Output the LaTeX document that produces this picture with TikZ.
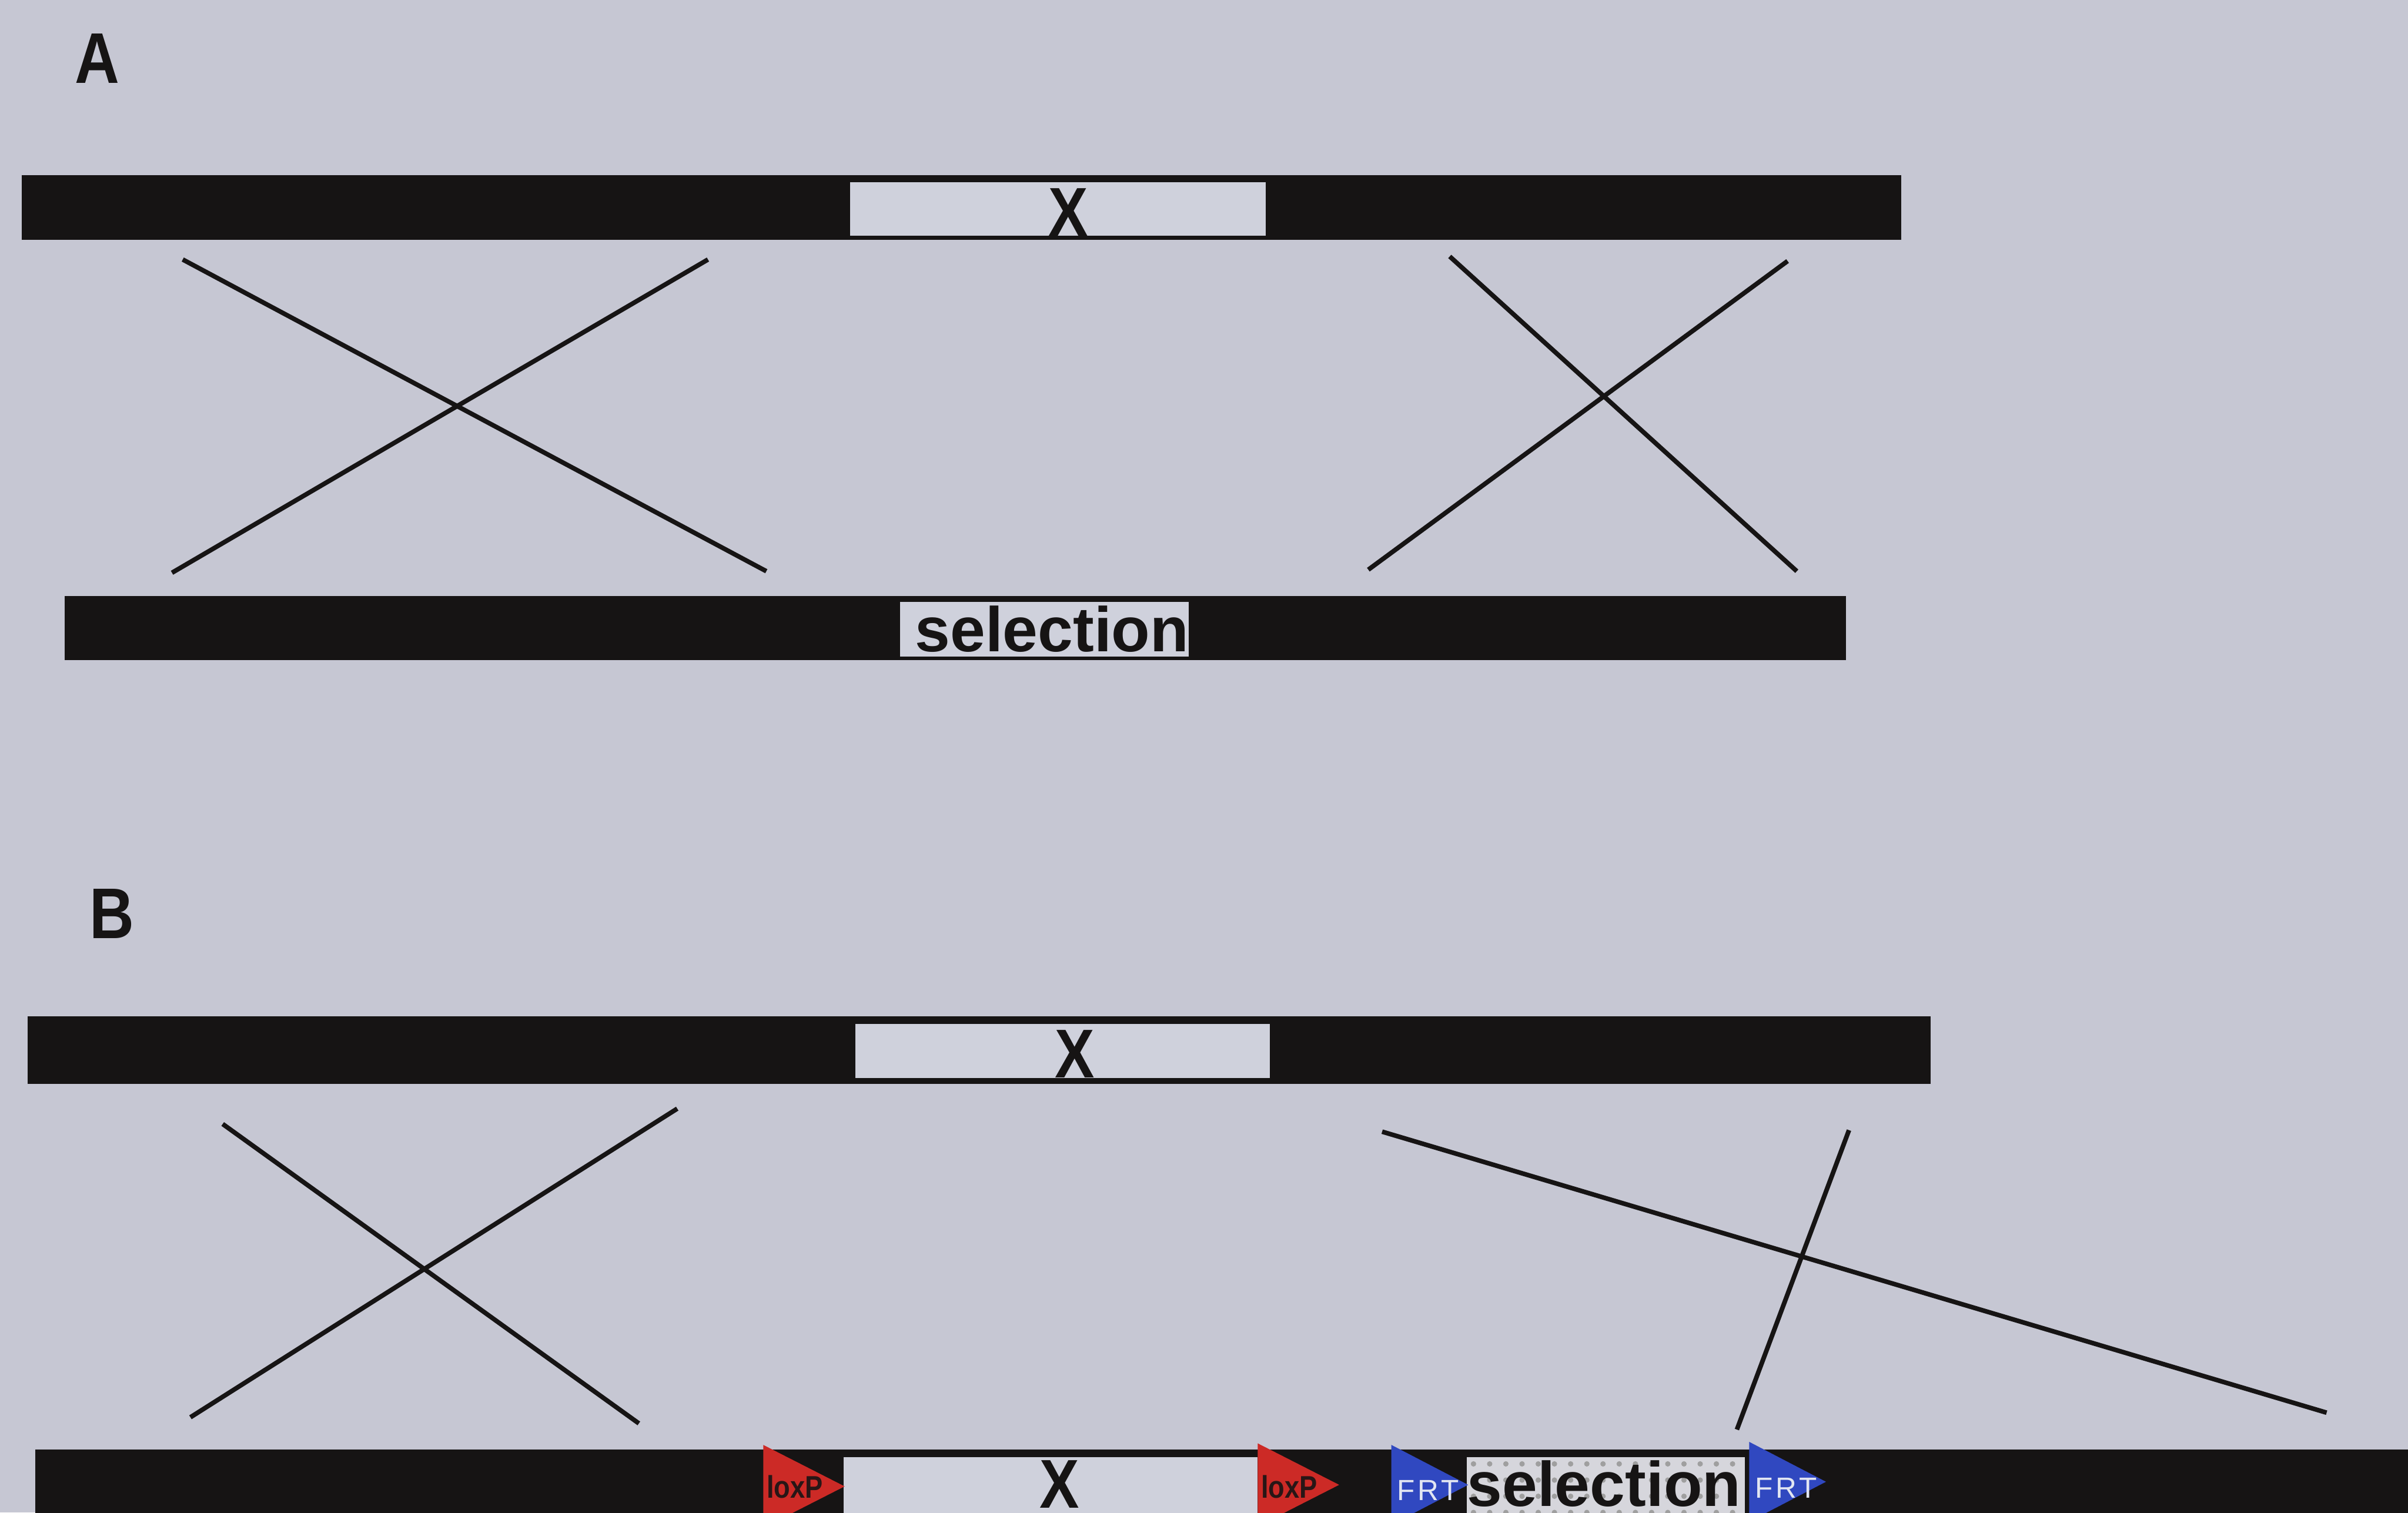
\documentclass[tikz,border=0pt]{standalone}
\usepackage{fontspec}
\setmainfont{Liberation Sans}
\newfontfamily\narrowsans[FakeStretch=0.86]{Liberation Sans}
\newfontfamily\tagsans[FakeStretch=0.85]{Liberation Sans}
\newfontfamily\frtsans[LetterSpace=10]{Liberation Sans}
\usetikzlibrary{patterns}

\definecolor{bg}{RGB}{198,199,211}
\definecolor{barc}{RGB}{22,20,20}
\definecolor{boxc}{RGB}{207,209,220}
\definecolor{selc}{RGB}{214,214,220}
\definecolor{loxred}{RGB}{204,42,38}
\definecolor{frtblue}{RGB}{48,72,192}
\definecolor{frttext}{RGB}{226,230,242}
\definecolor{loxtext}{RGB}{40,22,22}

\begin{document}
\begin{tikzpicture}[x=0.1mm,y=-0.1mm,
  bar/.style={fill=barc},
  slot/.style={fill=boxc},
  xover/.style={draw=barc,line width=0.85pt},
  panel/.style={font=\narrowsans\bfseries\fontsize{13.3}{14}\selectfont,text=barc,inner sep=0,anchor=base west},
  gene/.style={font=\narrowsans\bfseries\fontsize{12.8}{14}\selectfont,text=barc,inner sep=0,anchor=base},
  marker/.style={font=\bfseries\fontsize{11.7}{13}\selectfont,text=barc,inner sep=0,anchor=base},
  lox/.style={fill=loxred},
  frt/.style={fill=frtblue},
  loxlabel/.style={font=\tagsans\bfseries\fontsize{5.8}{6}\selectfont,text=loxtext,inner sep=0,anchor=base west},
  frtlabel/.style={font=\frtsans\fontsize{5.4}{6}\selectfont,text=frttext,inner sep=0,anchor=base west}]

% canvas
\useasboundingbox (0,0) rectangle (1568,985);
\fill[bg] (0,0) rectangle (1568,985);
\clip (0,0) rectangle (1568,985);

% ---------------- panel A ----------------
\node[panel] (labA) at (48,54) {A};

% chromosomal locus with gene X
\fill[bar] (14,114) rectangle (1238,156);
\fill[slot] (553.5,118.5) rectangle (824,153.5);
\node[gene] (xA) at (695.5,153.5) {X};

% targeting construct with selection cassette
\fill[bar] (42,388) rectangle (1202,430);
\fill[slot] (586,392) rectangle (774,427.5);
\node[marker] (selA) at (685,424.5) {selection};

% crossover arms
\coordinate (a1) at (119,169);  \coordinate (a2) at (499,372);
\coordinate (a3) at (461,169);  \coordinate (a4) at (112,373);
\coordinate (a5) at (944,167);  \coordinate (a6) at (1170,372);
\coordinate (a7) at (1164,170); \coordinate (a8) at (891,371);
\draw[xover] (a1) -- (a2);
\draw[xover] (a3) -- (a4);
\draw[xover] (a5) -- (a6);
\draw[xover] (a7) -- (a8);

% ---------------- panel B ----------------
\node[panel] (labB) at (57.5,611) {B};

% chromosomal locus with gene X
\fill[bar] (18,662) rectangle (1257,706);
\fill[slot] (557,667) rectangle (827,702);
\node[gene] (xB) at (700,702) {X};

% crossover arms
\coordinate (b1) at (145,732);  \coordinate (b2) at (416,927);
\coordinate (b3) at (441,722);  \coordinate (b4) at (124,923);
\coordinate (b5) at (900,737);  \coordinate (b6) at (1515,920);
\coordinate (b7) at (1204,736); \coordinate (b8) at (1131,931);
\draw[xover] (b1) -- (b2);
\draw[xover] (b3) -- (b4);
\draw[xover] (b5) -- (b6);
\draw[xover] (b7) -- (b8);

% targeting construct: floxed X and FRT-flanked selection cassette
\fill[bar] (23,944) rectangle (1600,1010);
\fill[slot] (549.5,949) rectangle (819,1010);
\node[gene] (xC) at (690,982) {X};
\fill[selc] (955,949) rectangle (1136,1010);
\fill[pattern=dots,pattern color=gray!75] (955,949) rectangle (1136,1010);
\node[marker] (selB) at (1044.5,981) {selection};

% recombination sites
\fill[lox] (497,941) -- (550,968) -- (497,995) -- cycle;
\node[loxlabel] (lox1) at (498.5,975.5) {loxP};
\fill[lox] (819,940) -- (872,967) -- (819,994) -- cycle;
\node[loxlabel] (lox2) at (820.5,975.5) {loxP};
\fill[frt] (906,941) -- (956,967) -- (906,993) -- cycle;
\node[frtlabel] (frt1) at (909,977) {FRT};
\fill[frt] (1139,939) -- (1189,965) -- (1139,991) -- cycle;
\node[frtlabel] (frt2) at (1142,975.5) {FRT};
\end{tikzpicture}
\end{document}
